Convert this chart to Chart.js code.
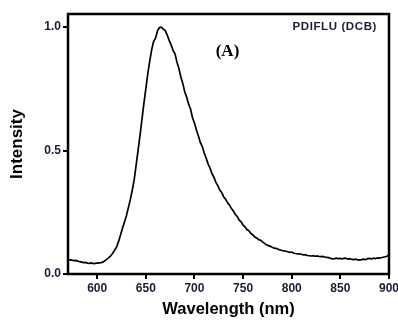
<!DOCTYPE html>
<html>
<head>
<meta charset="utf-8">
<script src="https://cdn.jsdelivr.net/npm/chart.js@4"></script>
<style>
html,body{margin:0;padding:0;background:#fff;}
#wrap{width:398px;height:320px;position:relative;}
</style>
</head>
<body>
<div id="wrap"><canvas id="c" width="398" height="320"></canvas></div>
<script>
const wavelengths = [570,572,574,576,578,580,582,584,586,588,590,592,594,596,598,600,602,604,606,608,610,612,614,616,618,620,622,624,626,628,630,632,634,636,638,640,642,644,646,648,650,652,654,656,658,660,662,664,666,668,670,672,674,676,678,680,682,684,686,688,690,692,694,696,698,700,702,704,706,708,710,712,714,716,718,720,722,724,726,728,730,732,734,736,738,740,742,744,746,748,750,752,754,756,758,760,762,764,766,768,770,772,774,776,778,780,782,784,786,788,790,792,794,796,798,800,802,804,806,808,810,812,814,816,818,820,822,824,826,828,830,832,834,836,838,840,842,844,846,848,850,852,854,856,858,860,862,864,866,868,870,872,874,876,878,880,882,884,886,888,890,892,894,896,898,900];
const intensity = [0.058,0.057,0.056,0.054,0.055,0.052,0.050,0.048,0.046,0.047,0.044,0.043,0.045,0.042,0.043,0.044,0.045,0.046,0.048,0.054,0.060,0.066,0.074,0.084,0.097,0.110,0.132,0.158,0.185,0.210,0.235,0.268,0.300,0.338,0.380,0.440,0.500,0.560,0.625,0.690,0.750,0.810,0.862,0.908,0.942,0.955,0.985,0.998,1.000,0.992,0.986,0.968,0.946,0.928,0.906,0.892,0.858,0.832,0.798,0.772,0.738,0.716,0.688,0.667,0.633,0.612,0.583,0.560,0.533,0.517,0.490,0.470,0.446,0.429,0.406,0.392,0.371,0.358,0.340,0.330,0.313,0.303,0.289,0.280,0.265,0.255,0.241,0.233,0.218,0.211,0.198,0.191,0.180,0.175,0.164,0.158,0.150,0.146,0.139,0.137,0.130,0.124,0.118,0.115,0.112,0.108,0.105,0.104,0.100,0.098,0.095,0.094,0.092,0.090,0.088,0.089,0.084,0.083,0.081,0.082,0.080,0.077,0.078,0.075,0.074,0.073,0.074,0.072,0.073,0.071,0.070,0.071,0.069,0.067,0.066,0.063,0.061,0.062,0.064,0.062,0.063,0.061,0.064,0.063,0.060,0.062,0.059,0.058,0.060,0.057,0.056,0.058,0.060,0.058,0.062,0.063,0.061,0.064,0.062,0.065,0.064,0.066,0.068,0.070,0.072,0.077];
const xTicks = [600,650,700,750,800,850,900];
const yTicks = [0.0,0.5,1.0];
const sampleLabel = "PDIFLU (DCB)";
const panelLabel = "(A)";
const xTitle = "Wavelength (nm)";
const yTitle = "Intensity";

const tickColor = '#1c1c38';

const framePlugin = {
  id: 'frame',
  afterDraw(chart) {
    const {ctx, chartArea: a} = chart;
    ctx.save();
    ctx.strokeStyle = '#000';
    ctx.lineWidth = 2.5;
    ctx.strokeRect(a.left, a.top, a.right - a.left, a.bottom - a.top);
    ctx.fillStyle = tickColor;
    ctx.font = 'bold 11.5px "Liberation Sans", Arial, sans-serif';
    ctx.textAlign = 'right';
    ctx.textBaseline = 'middle';
    if ('letterSpacing' in ctx) ctx.letterSpacing = '0.6px';
    ctx.fillText(sampleLabel, a.right - 12, a.top + 13);
    if ('letterSpacing' in ctx) ctx.letterSpacing = '0px';
    ctx.fillStyle = '#000';
    ctx.font = 'bold 17px "Liberation Serif", "Times New Roman", serif';
    ctx.textAlign = 'center';
    ctx.fillText(panelLabel, 227.5, a.top + 38);
    ctx.restore();
  }
};

new Chart(document.getElementById('c'), {
  type: 'line',
  data: {
    datasets: [{
      data: wavelengths.map((w, i) => ({x: w, y: intensity[i]})),
      borderColor: '#000',
      borderWidth: 1.7,
      pointRadius: 0,
      tension: 0,
      fill: false
    }]
  },
  options: {
    responsive: false,
    animation: false,
    devicePixelRatio: 1,
    layout: {padding: {left: 0, right: 9, top: 14, bottom: 0}},
    plugins: {legend: {display: false}, tooltip: {enabled: false}},
    scales: {
      x: {
        type: 'linear',
        min: 570,
        max: 900,
        afterBuildTicks: s => { s.ticks = xTicks.map(v => ({value: v})); },
        afterFit: s => { s.height = 46; s.paddingLeft = 0; s.paddingRight = 0; },
        grid: {drawOnChartArea: false, drawTicks: true, tickLength: 5, color: '#000', lineWidth: 2},
        border: {display: false},
        ticks: {
          autoSkip: false, maxRotation: 0, padding: 2,
          color: tickColor,
          font: {family: '"Liberation Sans", Arial, sans-serif', weight: 'bold', size: 12},
          callback: v => String(v)
        },
        title: {
          display: true, text: xTitle, color: '#000',
          font: {family: '"Liberation Sans", Arial, sans-serif', weight: 'bold', size: 16.5},
          padding: {top: 0, bottom: 1}
        }
      },
      y: {
        type: 'linear',
        min: 0,
        max: 1.053,
        afterBuildTicks: s => { s.ticks = yTicks.map(v => ({value: v})); },
        afterFit: s => { s.width = 68; s.paddingTop = 0; s.paddingBottom = 0; },
        grid: {drawOnChartArea: false, drawTicks: true, tickLength: 5, color: '#000', lineWidth: 2},
        border: {display: false},
        ticks: {
          autoSkip: false, padding: 2,
          color: tickColor,
          font: {family: '"Liberation Sans", Arial, sans-serif', weight: 'bold', size: 12},
          callback: v => Number(v).toFixed(1)
        },
        title: {
          display: true, text: yTitle, color: '#000',
          font: {family: '"Liberation Sans", Arial, sans-serif', weight: 'bold', size: 17},
          padding: {top: 7, bottom: 0}
        }
      }
    }
  },
  plugins: [framePlugin]
});
</script>
</body>
</html>
